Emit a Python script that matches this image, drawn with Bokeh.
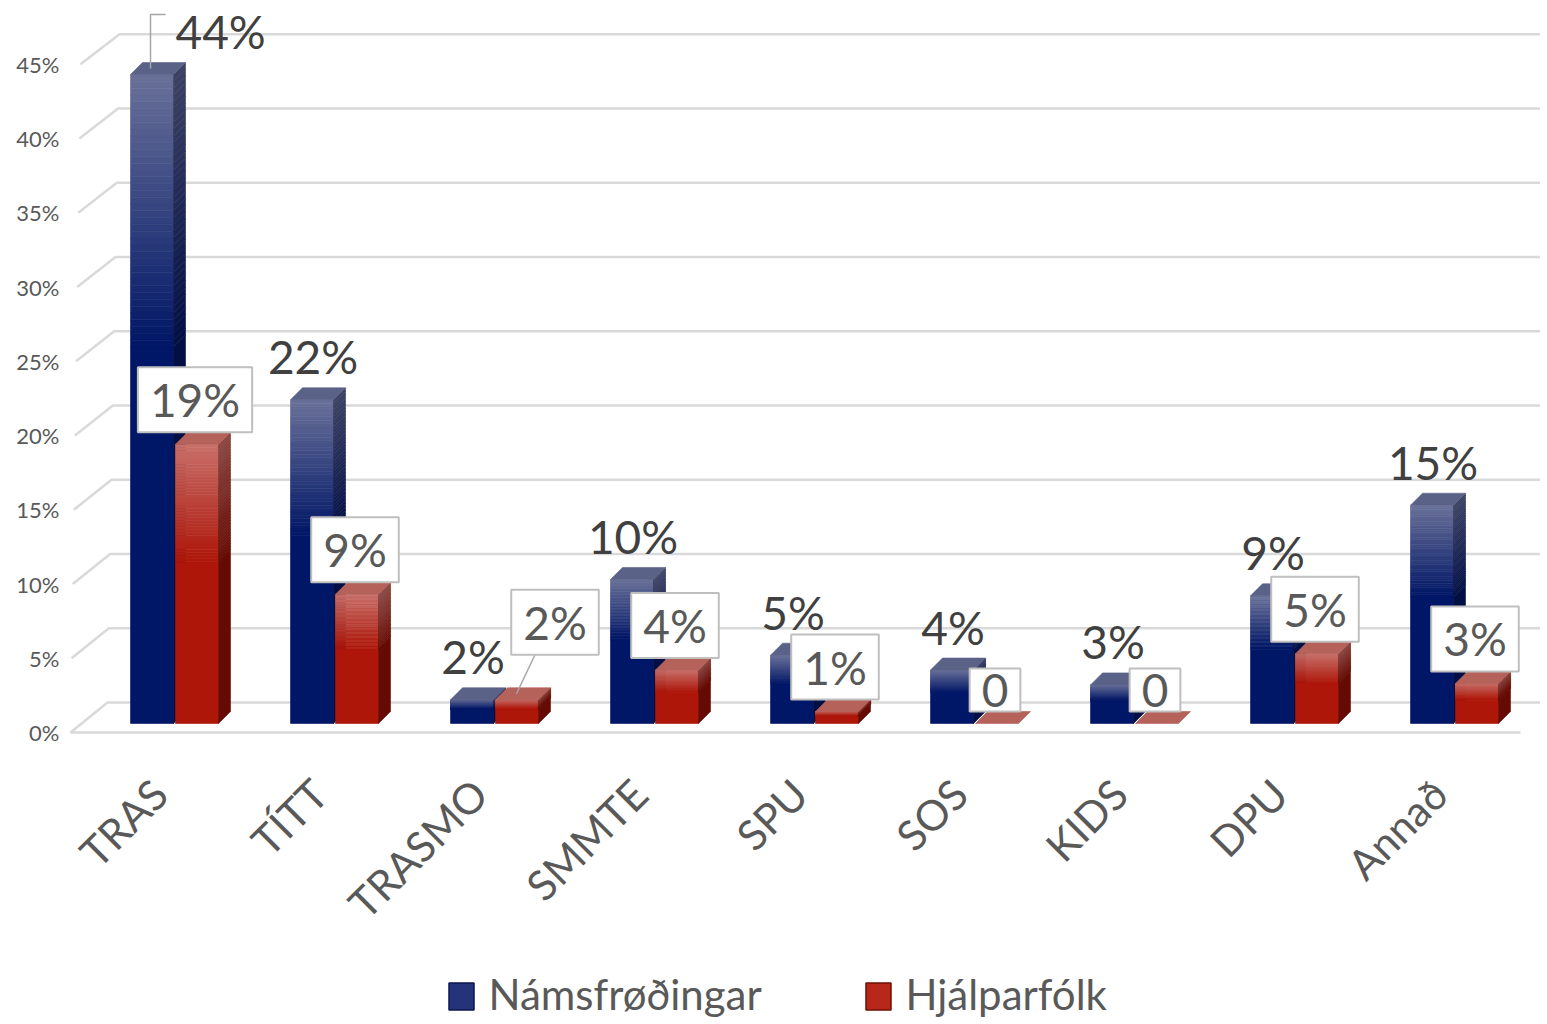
import numpy as np
from bokeh.plotting import figure
from bokeh.models import Range1d, FixedTicker, PrintfTickFormatter
from bokeh.core.properties import value
from bokeh.embed import file_html
from bokeh.resources import INLINE

# ---------------- data ----------------
categories = ["TRAS", "TÍTT", "TRASMO", "SMMTE", "SPU", "SOS", "KIDS", "DPU", "Annað"]
namsfrodingar = [43.7, 21.8, 1.6, 9.7, 4.6, 3.6, 2.6, 8.6, 14.7]
hjalparfolk = [18.8, 8.7, 1.6, 3.6, 0.8, 0.0, 0.0, 4.7, 2.7]
namsfrodingar_labels = ["44%", "22%", "2%", "10%", "5%", "4%", "3%", "9%", "15%"]
hjalparfolk_labels = ["19%", "9%", "2%", "4%", "1%", "0", "0", "5%", "3%"]
series_names = ["Námsfrøðingar", "Hjálparfólk"]
y_ticks = [0, 5, 10, 15, 20, 25, 30, 35, 40, 45]

# ---------------- geometry helpers (pixel -> data units) ----------------
PXX = 160.0    # pixels per category
PXY = 14.85    # pixels per percent
X0PX = 174.0   # screen x of first category centre
Y0PX = 732.0   # screen y of 0 %


def dx(px):
    return px / PXX


def dy(px):
    return px / PXY


def sx(px):  # screen x -> data
    return (px - X0PX) / PXX


def sy(px):  # screen y -> data
    return (Y0PX - px) / PXY


FONT = value("Lato")
W, H = 1540, 1020
LEFT = 66

p = figure(width=W, height=H, output_backend="svg", toolbar_location=None,
           x_range=Range1d(sx(LEFT), sx(W)), y_range=Range1d(sy(H), sy(0)),
           min_border_left=LEFT, min_border_right=0, min_border_top=0, min_border_bottom=0,
           x_axis_location=None)
p.outline_line_color = None
p.xgrid.visible = False
p.ygrid.visible = False
p.background_fill_color = "white"

ax = p.yaxis[0]
ax.ticker = FixedTicker(ticks=y_ticks)
ax.formatter = PrintfTickFormatter(format="%d%%")
ax.axis_line_color = None
ax.major_tick_line_color = None
ax.minor_tick_line_color = None
ax.major_label_standoff = 1
ax.major_label_text_font = "Lato"
ax.major_label_text_font_size = "22px"
ax.major_label_text_color = "#595959"

# ---------------- back wall grid + floor ----------------
GRID = "#d9d9d9"
back_dy = dy(30)
fx0, fx1 = sx(70), sx(80)      # front x at 0% and 45% (perspective)
bx0, bx1 = sx(107), sx(119)    # back x at 0% and 45%
xr_end = sx(W)
for v in y_ticks:
    t = v / 45.0
    fx = fx0 + (fx1 - fx0) * t
    bx = bx0 + (bx1 - bx0) * t
    p.line([fx, bx, xr_end], [v, v + back_dy, v + back_dy], line_color=GRID, line_width=2.5)
p.line([fx0, sx(1520)], [0, 0], line_color=GRID, line_width=2.5)

# ---------------- 3D bars ----------------
BASE = dy(9)
DX, DY = dx(12), dy(12)
N = 40
FRAC = 0.42


def hex2rgb(h):
    h = h.lstrip("#")
    return np.array([int(h[i:i + 2], 16) for i in (0, 2, 4)], dtype=float)


def lerp(c1, c2, t):
    c = hex2rgb(c1) * (1 - t) + hex2rgb(c2) * t
    return "#%02x%02x%02x" % tuple(int(round(x)) for x in c)


styles = [
    dict(front=("#6a7199", "#001666"), side=("#3e4364", "#020f45"), top="#5b6288",
         off=(-44, -1)),
    dict(front=("#c8706a", "#ad1609"), side=("#8a4640", "#650b03"), top="#b5625b",
         off=(1, 44)),
]

for s, vals in enumerate([namsfrodingar, hjalparfolk]):
    st = styles[s]
    ql, qr, qb, qt, qc = [], [], [], [], []
    pxs, pys, pc = [], [], []
    txs, tys = [], []
    for i, v in enumerate(vals):
        l = i + dx(st["off"][0])
        r = i + dx(st["off"][1])
        b = BASE
        t = BASE + v
        g = FRAC * v
        if v > 0:
            ql.append(l); qr.append(r); qb.append(b); qt.append(t - g); qc.append(st["front"][1])
            pxs.append([r, r + DX, r + DX, r]); pys.append([b, b + DY, t - g + DY, t - g])
            pc.append(st["side"][1])
            for k in range(N):
                y1 = t - k * g / N
                y0 = t - (k + 1) * g / N
                f = (k + 0.5) / N
                ql.append(l); qr.append(r); qb.append(y0); qt.append(y1)
                qc.append(lerp(st["front"][0], st["front"][1], f))
                pxs.append([r, r + DX, r + DX, r]); pys.append([y0, y0 + DY, y1 + DY, y1])
                pc.append(lerp(st["side"][0], st["side"][1], f))
        txs.append([l, r, r + DX, l + DX]); tys.append([t, t, t + DY, t + DY])
    p.quad(left=ql, right=qr, bottom=qb, top=qt, fill_color=qc, line_color=qc, line_width=0.6)
    p.patches(pxs, pys, fill_color=pc, line_color=pc, line_width=0.6)
    p.patches(txs, tys, fill_color=st["top"], line_color=st["top"], line_width=0.6)

# ---------------- value labels ----------------
LBL = "#404040"
for i, v in enumerate(namsfrodingar):
    x = i + dx(-21.5)
    y = BASE + v + DY + dy(31)
    align = "center"
    if i == 0:  # label moved aside with leader line
        x = i + dx(1)
        align = "left"
        top_y = BASE + v + DY * 0.5
        mid = y + dy(17)
        lx = i + dx(-24)
        p.line([lx, lx, x - dx(10)], [top_y, mid, mid], line_color="#a6a6a6", line_width=1.5)
    p.text(x=[x], y=[y], text=[namsfrodingar_labels[i]], text_font=FONT,
           text_font_size="46px", text_color=LBL, text_align=align,
           text_baseline="alphabetic")

for i, v in enumerate(hjalparfolk):
    x = i + dx(20.5)
    y = BASE + v + DY
    if i == 2:  # label moved aside with leader line
        bar_x = i + dx(22)
        bar_y = BASE + v + DY * 0.5
        x = x + dx(40)
        y = y + dy(33)
        p.line([bar_x, x - dx(20)], [bar_y, y], line_color="#a6a6a6", line_width=1.5)
    p.text(x=[x], y=[y], text=[hjalparfolk_labels[i]], text_font=FONT,
           text_font_size="46px", text_color="#595959", text_align="center",
           text_baseline="bottom", background_fill_color="white",
           border_line_color="#bfbfbf", border_line_width=2,
           padding=dict(left=12, right=12, top=5, bottom=5))

# ---------------- category labels ----------------
p.text(x=[i + dx(-15) for i in range(len(categories))], y=[sy(786)] * len(categories),
       text=categories, angle=45, angle_units="deg", text_font=FONT,
       text_font_size="42px", text_color="#595959", text_align="right",
       text_baseline="middle")

# ---------------- legend ----------------
leg_sq_x = [sx(461), sx(878)]
leg_tx_x = [sx(488), sx(905)]
p.rect(x=leg_sq_x, y=[sy(996)] * 2, width=25, height=27, width_units="screen",
       height_units="screen", fill_color=["#24337a", "#b8281a"],
       line_color=["#0c1650", "#6e0e05"], line_width=1.5)
p.text(x=leg_tx_x, y=[sy(993)] * 2, text=series_names, text_font=FONT,
       text_font_size="42px", text_color="#595959", text_align="left",
       text_baseline="middle")

open("out.html", "w").write(file_html(p, INLINE))
